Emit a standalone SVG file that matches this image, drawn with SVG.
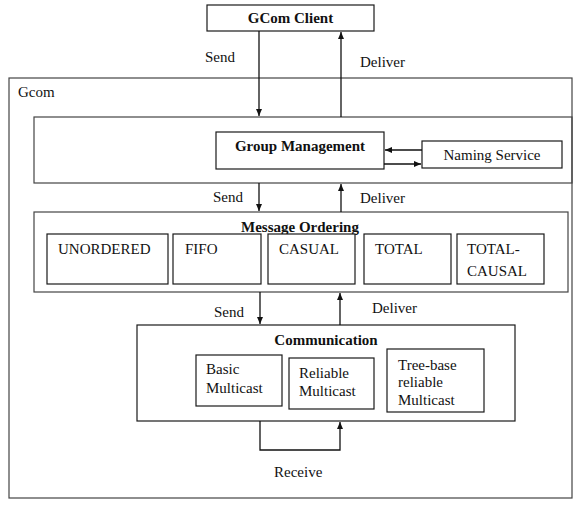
<svg xmlns="http://www.w3.org/2000/svg" width="581" height="516" viewBox="0 0 581 516">
<style>
.box{fill:#fff;stroke:#1a1a1a;stroke-width:1.2}
.lay{fill:none;stroke:#444;stroke-width:1.2}
text{font-family:'Liberation Serif','Times New Roman',Times,serif;font-size:15px;fill:#111}
.b{font-weight:bold}
.c{text-anchor:middle}
.ln{fill:none;stroke:#111;stroke-width:1.3}
</style>
<defs>
<marker id="ah" markerWidth="8" markerHeight="8" refX="7" refY="4" orient="auto" markerUnits="userSpaceOnUse">
<path d="M0,1 L7,4 L0,7 z" fill="#111"/>
</marker>
</defs>
<rect width="581" height="516" fill="#fff"/>
<g id="gcom">
<rect class="lay" x="9" y="78" width="563" height="420"/>
<text x="18" y="97">Gcom</text>
</g>
<g id="client">
<rect class="box" x="207" y="5" width="167" height="26"/>
<text class="b c" x="290.500" y="23">GCom Client</text>
</g>
<g id="gm-layer">
<rect class="lay" x="34" y="117" width="538" height="66"/>
</g>
<g id="group-management">
<rect class="box" x="216" y="132" width="168" height="37"/>
<text class="b c" x="300" y="151">Group Management</text>
</g>
<g id="naming-service">
<rect class="box" x="422" y="141" width="140" height="27"/>
<text class="c" x="492" y="160">Naming Service</text>
</g>
<g id="message-ordering">
<rect class="lay" x="34" y="212" width="534" height="80"/>
<text class="b c" x="300" y="232">Message Ordering</text>
</g>
<g id="unordered">
<rect class="box" x="47" y="234" width="121" height="50"/>
<text x="58" y="254">UNORDERED</text>
</g>
<g id="fifo">
<rect class="box" x="173" y="234" width="88" height="50"/>
<text x="185" y="254">FIFO</text>
</g>
<g id="casual">
<rect class="box" x="268" y="234" width="87" height="50"/>
<text x="279" y="254">CASUAL</text>
</g>
<g id="total">
<rect class="box" x="364" y="234" width="87" height="50"/>
<text x="375" y="254">TOTAL</text>
</g>
<g id="total-causal">
<rect class="box" x="457" y="234" width="87" height="50"/>
<text x="467" y="254">TOTAL-</text>
<text x="467" y="276">CAUSAL</text>
</g>
<g id="communication">
<rect class="box" x="137" y="325" width="378" height="96"/>
<text class="b c" x="326" y="345">Communication</text>
</g>
<g id="basic-multicast">
<rect class="box" x="196" y="355" width="86" height="51"/>
<text x="206" y="374">Basic</text>
<text x="206" y="393">Multicast</text>
</g>
<g id="reliable-multicast">
<rect class="box" x="289" y="358" width="85" height="51"/>
<text x="299" y="378">Reliable</text>
<text x="299" y="396">Multicast</text>
</g>
<g id="tree-multicast">
<rect class="box" x="387" y="349" width="97" height="63"/>
<text x="398" y="370">Tree-base</text>
<text x="398" y="387">reliable</text>
<text x="398" y="405">Multicast</text>
</g>
<g id="connectors">
<line class="ln" x1="259" y1="31" x2="259" y2="116" marker-end="url(#ah)"/>
<line class="ln" x1="341" y1="117" x2="341" y2="32" marker-end="url(#ah)"/>
<line class="ln" x1="422" y1="150" x2="385" y2="150" marker-end="url(#ah)"/>
<line class="ln" x1="384" y1="164" x2="421" y2="164" marker-end="url(#ah)"/>
<line class="ln" x1="259" y1="183" x2="259" y2="211" marker-end="url(#ah)"/>
<line class="ln" x1="341" y1="212" x2="341" y2="184" marker-end="url(#ah)"/>
<line class="ln" x1="260" y1="292" x2="260" y2="324" marker-end="url(#ah)"/>
<line class="ln" x1="340" y1="325" x2="340" y2="293" marker-end="url(#ah)"/>
<polyline class="ln" points="260,421 260,450 340,450 340,422" marker-end="url(#ah)"/>
<text x="205" y="62">Send</text>
<text x="360" y="67">Deliver</text>
<text x="213" y="202">Send</text>
<text x="360" y="203">Deliver</text>
<text x="214" y="317">Send</text>
<text x="372" y="313">Deliver</text>
<text x="274" y="477">Receive</text>
</g>
</svg>
